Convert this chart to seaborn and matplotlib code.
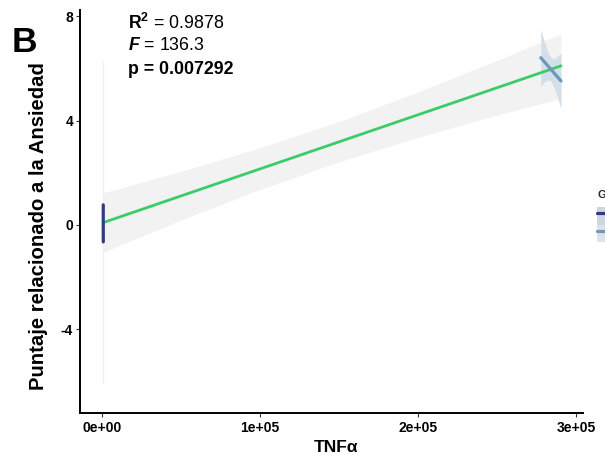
import matplotlib
matplotlib.use("Agg")
import matplotlib.pyplot as plt
from matplotlib.lines import Line2D
from matplotlib.patches import Patch
import seaborn as sns
import pandas as pd

# Overall linear fit of anxiety score on TNF-alpha, with its 95% band
fit_tnf = [800, 50000, 100000, 150000, 200000, 250000, 290500]
fit_lo = [-1.05, 0.19, 1.36, 2.42, 3.36, 4.21, 4.85]
fit_hi = [1.23, 2.05, 2.96, 3.96, 5.10, 6.31, 7.33]
fit_line_tnf = [800, 290500]
fit_line_score = [0.09, 6.10]

# Within-group fits
g1_tnf = [810, 830]
g1_score = [0.77, -0.65]
g1_band_tnf = [810, 830]
g1_band_lo = [-6.1, -6.1]
g1_band_hi = [6.3, 6.3]

g2_tnf = [277700, 290500]
g2_score = [6.41, 5.52]
g2_band_tnf = [277700, 279800, 281900, 284100, 286200, 288300, 290500]
g2_band_lo = [5.34, 5.47, 5.56, 5.52, 5.26, 4.88, 4.45]
g2_band_hi = [7.48, 7.05, 6.67, 6.42, 6.37, 6.46, 6.59]

groups = ["1", "2"]
x_ticks = [0, 100000, 200000, 300000]
x_tick_labels = ["0e+00", "1e+05", "2e+05", "3e+05"]
y_ticks = [-4, 0, 4, 8]
y_tick_labels = ["-4", "0", "4", "8"]

GREEN = "#3ccb6a"
NAVY = "#2f3c82"
STEEL = "#6e97ba"
BAND_ALL = "#f2f2f2"
BAND_G1 = "#f0eff4"
BAND_G2 = "#d3dfe9"
KEY_G1 = "#d2d4de"
KEY_G2 = "#d8e3ec"

sns.set_theme(style="white")
plt.rcParams["font.family"] = ["Liberation Sans", "DejaVu Sans"]
plt.rcParams["mathtext.fontset"] = "custom"
plt.rcParams["mathtext.rm"] = "Liberation Sans"
plt.rcParams["mathtext.it"] = "Liberation Sans:italic"
plt.rcParams["mathtext.bf"] = "Liberation Sans:bold"
plt.rcParams["mathtext.bfit"] = "Liberation Sans:bold:italic"

fig = plt.figure(figsize=(6.05, 4.58), dpi=100)
ax = fig.add_axes([80 / 605, 45 / 458, 503 / 605, 403 / 458])

# confidence bands
ax.fill_between(fit_tnf, fit_lo, fit_hi, color=BAND_ALL, lw=0, zorder=1)
ax.fill_between(g1_band_tnf, g1_band_lo, g1_band_hi, color=BAND_G1,
                edgecolor=BAND_G1, lw=0.9, zorder=2)
ax.fill_between(g2_band_tnf, g2_band_lo, g2_band_hi, color=BAND_G2, lw=0, zorder=2)

# fitted lines
df_all = pd.DataFrame({"TNF": fit_line_tnf, "score": fit_line_score})
sns.lineplot(data=df_all, x="TNF", y="score", color=GREEN, lw=2.0,
             estimator=None, sort=False, ax=ax, zorder=3)
df_g = pd.DataFrame({
    "TNF": g1_tnf + g2_tnf,
    "score": g1_score + g2_score,
    "Grupo": [groups[0]] * 2 + [groups[1]] * 2,
})
sns.lineplot(data=df_g, x="TNF", y="score", hue="Grupo",
             palette=[NAVY, STEEL], lw=2.3, estimator=None, sort=False,
             legend=False, ax=ax, zorder=4)

ax.set_xlim(-13900, 304400)
ax.set_ylim(-7.21, 8.24)
ax.set_xticks(x_ticks)
ax.set_xticklabels(x_tick_labels)
ax.set_yticks(y_ticks)
ax.set_yticklabels(y_tick_labels)
for lab in ax.get_xticklabels() + ax.get_yticklabels():
    lab.set_fontweight("bold")
    lab.set_fontsize(10)
    lab.set_color("black")
ax.tick_params(axis="both", which="major", direction="out", length=3,
               width=0.8, color="#333333", pad=2, bottom=True, left=True)
ax.tick_params(axis="x", pad=3)

sns.despine(ax=ax)
for side in ("left", "bottom"):
    ax.spines[side].set_color("black")
    ax.spines[side].set_linewidth(1.4)

ax.set_xlabel("TNFα", fontsize=12.5, fontweight="bold", color="black")
ax.set_ylabel("Puntaje relacionado a la Ansiedad", fontsize=14.6,
              fontweight="bold", color="black")
ax.xaxis.set_label_coords((336 - 80) / 503, (413 - 440) / 403)
ax.yaxis.set_label_coords((48 - 80) / 503, (413 - 226) / 403)

# panel letter and statistics
fig.text(12 / 605, 1 - 42 / 458, "B", fontsize=25.5, fontweight="bold",
         va="center", ha="left", color="black")
fig.text(128 / 605, 1 - 22.5 / 458, r"$\mathbf{R^2}$ = 0.9878", fontsize=12.8,
         va="center", ha="left", color="black")
fig.text(128 / 605, 1 - 45.5 / 458, r"$\mathbfit{F}$ = 136.3", fontsize=12.8,
         va="center", ha="left", color="black")
fig.text(128 / 605, 1 - 69.5 / 458, "p = 0.007292", fontsize=12.8,
         fontweight="bold", va="center", ha="left", color="black")

# group legend at the right margin
handles = [
    (Patch(facecolor=KEY_G1, edgecolor="none"), Line2D([], [], color=NAVY, lw=2.3)),
    (Patch(facecolor=KEY_G2, edgecolor="none"), Line2D([], [], color=STEEL, lw=2.3)),
]
leg = fig.legend(handles, groups, title="Grupo", loc="upper left",
                 bbox_to_anchor=(597 / 605, 1 - 190 / 458), frameon=False,
                 borderpad=0, borderaxespad=0, handlelength=1.7,
                 handleheight=1.8, labelspacing=0.0, handletextpad=0.5,
                 fontsize=9, title_fontproperties={"weight": "bold", "size": 8})
leg._legend_box.align = "left"
leg._legend_box.sep = 5

fig.savefig("out.png", dpi=100)
